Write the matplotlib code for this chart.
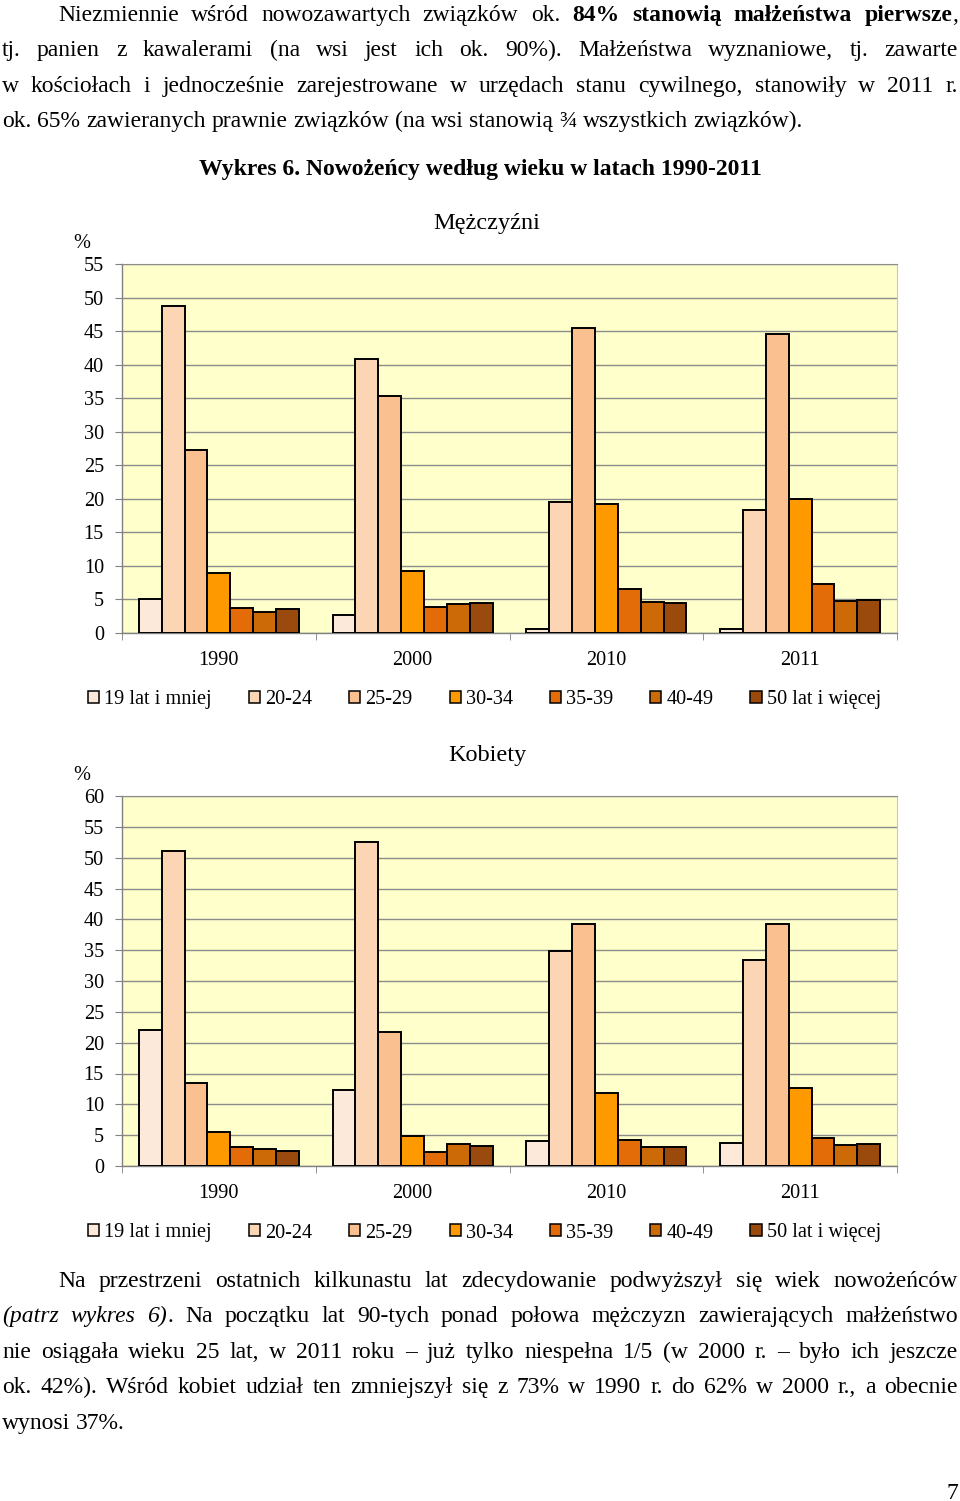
import matplotlib
matplotlib.use('Agg')
import matplotlib.pyplot as plt
import numpy as np

plt.rcParams['font.family'] = ['Liberation Serif', 'DejaVu Serif']

# ---------------- data ----------------
years = ['1990', '2000', '2010', '2011']
age_groups = ['19 lat i mniej', '20-24', '25-29', '30-34', '35-39', '40-49', '50 lat i więcej']

men_19_i_mniej = [5.0, 2.7, 0.6, 0.6]
men_20_24 = [48.8, 40.8, 19.6, 18.4]
men_25_29 = [27.3, 35.3, 45.4, 44.6]
men_30_34 = [8.9, 9.2, 19.3, 20.0]
men_35_39 = [3.8, 3.9, 6.6, 7.3]
men_40_49 = [3.1, 4.3, 4.6, 4.8]
men_50_i_wiecej = [3.6, 4.4, 4.4, 4.9]

women_19_i_mniej = [22.0, 12.3, 4.0, 3.7]
women_20_24 = [51.1, 52.6, 34.9, 33.4]
women_25_29 = [13.4, 21.8, 39.3, 39.3]
women_30_34 = [5.5, 4.8, 11.9, 12.6]
women_35_39 = [3.1, 2.2, 4.2, 4.6]
women_40_49 = [2.8, 3.5, 3.1, 3.4]
women_50_i_wiecej = [2.5, 3.2, 3.1, 3.5]

men_series = [men_19_i_mniej, men_20_24, men_25_29, men_30_34, men_35_39, men_40_49, men_50_i_wiecej]
women_series = [women_19_i_mniej, women_20_24, women_25_29, women_30_34, women_35_39, women_40_49, women_50_i_wiecej]

colors = ['#FDE9D9', '#FCD5B5', '#FAC090', '#FF9900', '#E36C09', '#CC6A08', '#9A4A0C']

# ---------------- layout ----------------
W, H = 960, 1501
fig = plt.figure(figsize=(W / 100, H / 100), dpi=100)
fig.patch.set_facecolor('white')

overlay = fig.add_axes([0, 0, 1, 1])
overlay.set_xlim(0, W)
overlay.set_ylim(H, 0)
overlay.axis('off')

renderer = fig.canvas.get_renderer()
BODY_FS = 17.0
TICK_FS = 14.6


def px_axes(l, t, r, b):
    return fig.add_axes([l / W, 1 - b / H, (r - l) / W, (b - t) / H])


def text_width(s, fs, **props):
    a = overlay.text(0, 0, s, fontsize=fs, **props)
    w = a.get_window_extent(renderer).width
    a.remove()
    return w


def draw_line(segments, x0, x1, y, justify, fs=BODY_FS):
    words, cur = [], []
    for txt, props in segments:
        parts = txt.split(' ')
        for i, p in enumerate(parts):
            if i > 0 and cur:
                words.append(cur)
                cur = []
            if p:
                cur.append((p, props))
    if cur:
        words.append(cur)
    placed = []
    for w in words:
        arts = []
        total = 0.0
        for t, props in w:
            a = overlay.text(0, y, t, fontsize=fs, va='baseline', ha='left', **props)
            wd = a.get_window_extent(renderer).width
            arts.append((a, wd))
            total += wd
        placed.append((arts, total))
    space = text_width('a a', fs) - text_width('aa', fs)
    if justify and len(placed) > 1:
        gap = (x1 - x0 - sum(p[1] for p in placed)) / (len(placed) - 1)
    else:
        gap = space
    x = x0
    for arts, total in placed:
        for a, wd in arts:
            a.set_x(x)
            x += wd
        x += gap


N = {}
B = {'weight': 'bold'}
I = {'style': 'italic'}

# top paragraph
draw_line([("Niezmiennie wśród nowozawartych związków ok. ", N),
           ("84% stanowią małżeństwa pierwsze", B), (",", N)], 58, 958, 21, True)
draw_line([("tj. panien z kawalerami (na wsi jest ich ok. 90%). Małżeństwa wyznaniowe, tj. zawarte", N)],
          2, 958, 56, True)
draw_line([("w kościołach i jednocześnie zarejestrowane w urzędach stanu cywilnego, stanowiły w 2011 r.", N)],
          2, 958, 92, True)
draw_line([("ok. 65% zawieranych prawnie związków (na wsi stanowią ¾ wszystkich związków).", N)],
          2, 958, 127, False)

overlay.text(480, 175, "Wykres 6. Nowożeńcy według wieku w latach 1990-2011", fontsize=BODY_FS,
             weight='bold', ha='center', va='baseline')

# bottom paragraph
draw_line([("Na przestrzeni ostatnich kilkunastu lat zdecydowanie podwyższył się wiek nowożeńców", N)],
          58, 958, 1287, True)
draw_line([("(patrz wykres 6)", I), (". Na początku lat 90-tych ponad połowa mężczyzn zawierających małżeństwo", N)],
          2, 958, 1322, True)
draw_line([("nie osiągała wieku 25 lat, w 2011 roku – już tylko niespełna 1/5 (w 2000 r. – było ich jeszcze", N)],
          2, 958, 1358, True)
draw_line([("ok. 42%). Wśród kobiet udział ten zmniejszył się z 73% w 1990 r. do 62% w 2000 r., a obecnie", N)],
          2, 958, 1393, True)
draw_line([("wynosi 37%.", N)], 2, 958, 1429, False)

overlay.text(952, 1499, "7", fontsize=BODY_FS, ha='center', va='baseline')


def draw_chart(top, bottom, series, ymax, title, legend_y):
    ax = px_axes(122, top, 897, bottom)
    x = np.arange(len(years))
    group = 0.826
    bw = group / len(series)
    handles = []
    for i, (vals, col) in enumerate(zip(series, colors)):
        h = ax.bar(x - group / 2 + bw * (i + 0.5), vals, width=bw, color=col,
                   edgecolor='black', linewidth=1.4, zorder=3, label=age_groups[i])
        handles.append(h)
    ax.set_xlim(-0.5, len(years) - 0.5)
    ax.set_ylim(0, ymax)
    ax.set_yticks(np.arange(0, ymax + 1, 5))
    ax.set_facecolor('#FFFFCC')
    ax.yaxis.grid(True, color='#8C8C8C', lw=1.0)
    ax.set_axisbelow(True)
    ax.set_xticks(x)
    ax.set_xticklabels(years)
    ax.set_xticks(np.arange(-0.5, len(years)), minor=True)
    ax.tick_params(axis='x', which='major', length=0, pad=13, labelsize=TICK_FS)
    ax.tick_params(axis='x', which='minor', length=5, color='#808080', direction='out')
    ax.tick_params(axis='y', length=5, pad=8, color='#808080', labelsize=TICK_FS)
    for s in ['left', 'bottom']:
        ax.spines[s].set_color('#808080')
        ax.spines[s].set_linewidth(1.0)
    ax.spines['top'].set_color('#8C8C8C')
    ax.spines['right'].set_color('#C8C8C8')
    overlay.text(487, top - 40, title, fontsize=17.5, ha='center', va='center')
    overlay.text(82, top - 21, "%", fontsize=TICK_FS, ha='center', va='center')
    leg = fig.legend(handles, age_groups, loc='center', bbox_to_anchor=(484.5 / W, 1 - legend_y / H),
                     ncol=len(age_groups), frameon=False, prop={'family': 'Liberation Serif', 'size': TICK_FS},
                     handlelength=0.55, handleheight=0.55, handletextpad=0.25, columnspacing=1.82,
                     borderaxespad=0, borderpad=0)
    for p in leg.get_patches():
        p.set_linewidth(1.1)
    return ax


draw_chart(264, 633, men_series, 55, "Mężczyźni", 700)
draw_chart(796, 1166, women_series, 60, "Kobiety", 1233)

fig.savefig('out.png', dpi=100, facecolor='white')
